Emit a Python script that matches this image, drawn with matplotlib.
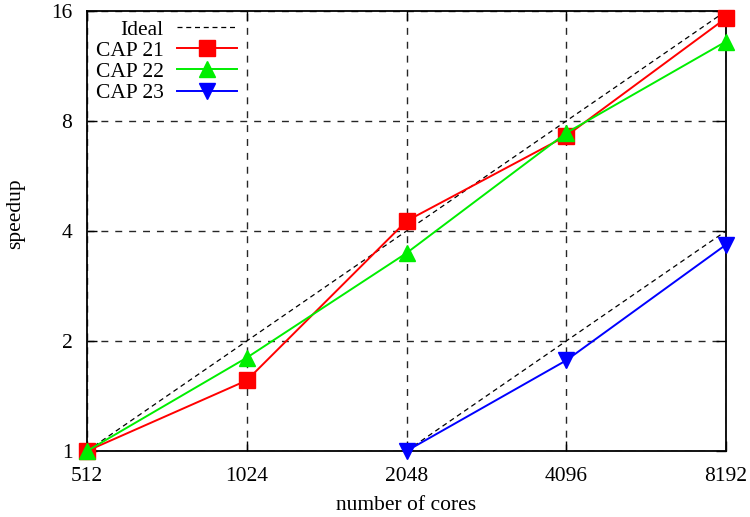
import matplotlib
matplotlib.use("Agg")
import matplotlib.pyplot as plt
from matplotlib.ticker import FixedLocator, NullLocator

cores = [512, 1024, 2048, 4096, 8192]
ideal = [1, 2, 4, 8, 16]
cap21 = [1.0, 1.56, 4.26, 7.28, 15.3]
cap22 = [1.0, 1.80, 3.48, 7.42, 13.2]
cores23 = [2048, 4096, 8192]
cap23 = [1.0, 1.77, 3.67]
ideal23 = [1, 2, 4]

xticks = [512, 1024, 2048, 4096, 8192]
xticklabels = ["512", "1024", "2048", "4096", "8192"]
yticks = [1, 2, 4, 8, 16]
yticklabels = ["1", "2", "4", "8", "16"]

FS = 15.5
plt.rcParams['font.family'] = ['Liberation Serif', 'DejaVu Serif']
plt.rcParams['font.size'] = FS

fig = plt.figure(figsize=(7.5, 5.17), dpi=100)
ax = fig.add_axes([87/750, 1-451/517, (726-87)/750, (451-11)/517])

ax.set_xscale('log', base=2)
ax.set_yscale('log', base=2)

dash = (0, (4, 3))
ax.plot(cores, ideal, color='black', lw=0.9, linestyle=dash, label='Ideal', zorder=3)
ax.plot(cores, cap21, color='#ff0000', lw=1.4, marker='s', markersize=12, label='CAP 21', zorder=4, clip_on=False)
ax.plot(cores, cap22, color='#00ee00', lw=1.4, marker='^', markersize=12, label='CAP 22', zorder=5, clip_on=False)
ax.plot(cores23, cap23, color='#0000ff', lw=1.4, marker='v', markersize=12, label='CAP 23', zorder=4, clip_on=False)
ax.plot(cores23, ideal23, color='black', lw=0.9, linestyle=dash, zorder=3)

ax.set_xlim(512, 8192)
ax.set_ylim(1, 16)
ax.xaxis.set_major_locator(FixedLocator(xticks))
ax.xaxis.set_minor_locator(NullLocator())
ax.set_xticklabels(xticklabels)
ax.yaxis.set_major_locator(FixedLocator(yticks))
ax.yaxis.set_minor_locator(NullLocator())
ax.set_yticklabels(yticklabels)

ax.grid(True, color='black', linestyle=(0, (5, 5)), lw=1.0, alpha=0.85)
ax.tick_params(direction='in', length=7, width=1.0, top=True, right=True, labelsize=FS)
ax.tick_params(axis='x', pad=11.5)
ax.tick_params(axis='y', pad=10.5)
for s in ax.spines.values():
    s.set_linewidth(1.3)

ax.set_xlabel('number of cores', fontsize=FS, va='center')
ax.xaxis.set_label_coords(0.5, (451-505)/440)
ax.set_ylabel('speedup', fontsize=FS, va='center')
ax.yaxis.set_label_coords((16-87)/639, (451-214)/440)

leg = ax.legend(loc='upper left', frameon=False, markerfirst=False, fontsize=FS,
                handlelength=2.8, handletextpad=0.62, labelspacing=0.05,
                borderpad=0.4, borderaxespad=0.0, bbox_to_anchor=(0.0, 1.0))

fig.savefig('out.png', dpi=100)
